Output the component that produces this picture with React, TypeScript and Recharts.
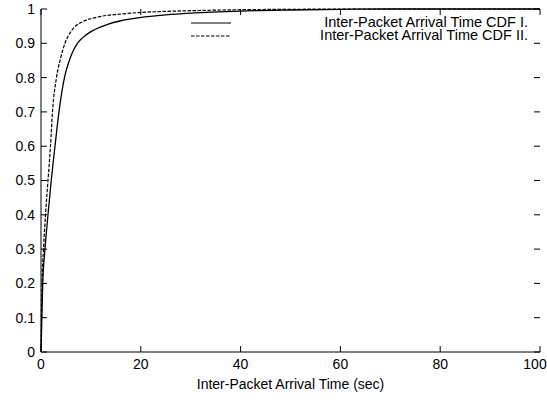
import React from 'react';
import { LineChart, Line, XAxis, YAxis, Legend } from 'recharts';

// Inter-packet arrival time (sec) vs. cumulative probability
const xCdfI = [0, 0.35, 0.8, 1.4, 2.05, 2.8, 3.6, 4.7, 5.8, 6.5, 7.3, 8.5, 10, 11.5, 13.5, 15.8, 19.8, 25, 30, 40, 50, 60, 70, 100];
const yCdfI = [0, 0.2, 0.3, 0.4, 0.5, 0.6, 0.7, 0.8, 0.855, 0.88, 0.9, 0.918, 0.934, 0.945, 0.956, 0.965, 0.975, 0.983, 0.988, 0.994, 0.997, 0.999, 1, 1];

const xCdfII = [0, 0.2, 0.5, 0.9, 1.4, 1.9, 2.3, 3.1, 3.9, 4.8, 5.6, 6.5, 8.5, 11.2, 16.5, 23, 30, 40, 50, 60, 100];
const yCdfII = [0, 0.2, 0.3, 0.4, 0.5, 0.6, 0.7, 0.8, 0.855, 0.9, 0.925, 0.944, 0.964, 0.976, 0.986, 0.992, 0.995, 0.998, 0.999, 1, 1];

const xTicks = [0, 20, 40, 60, 80, 100];
const yTicks = [0, 0.1, 0.2, 0.3, 0.4, 0.5, 0.6, 0.7, 0.8, 0.9, 1];

const cdfI = xCdfI.map((x, i) => ({ x, y: yCdfI[i] }));
const cdfII = xCdfII.map((x, i) => ({ x, y: yCdfII[i] }));

const W = 547;
const H = 400;
const M = { top: 9, right: 7, bottom: 0, left: 0 };
const Y_AXIS_W = 41;
const X_AXIS_H = 48;
const plotLeft = M.left + Y_AXIS_W;
const plotRight = W - M.right;
const plotTop = M.top;
const plotBottom = H - M.bottom - X_AXIS_H;
const TICK = 6;

const font = '"Liberation Sans", Arial, Helvetica, sans-serif';

// gnuplot draws ticks inward, mirrored on the opposite border
const XTick = ({ x, y, payload }: any) => (
  <g>
    <line x1={payload.coordinate} x2={payload.coordinate} y1={plotBottom} y2={plotBottom - TICK} stroke="#000" />
    <line x1={payload.coordinate} x2={payload.coordinate} y1={plotTop} y2={plotTop + TICK} stroke="#000" />
    <text x={x} y={y} dy="0.71em" textAnchor="middle" fill="#000" fontSize={14} fontFamily={font}>
      {payload.value}
    </text>
  </g>
);

const YTick = ({ x, y, payload }: any) => (
  <g>
    <line x1={plotLeft} x2={plotLeft + TICK} y1={payload.coordinate} y2={payload.coordinate} stroke="#000" />
    <line x1={plotRight} x2={plotRight - TICK} y1={payload.coordinate} y2={payload.coordinate} stroke="#000" />
    <text x={x} y={y} dy="0.355em" textAnchor="end" fill="#000" fontSize={14} fontFamily={font}>
      {payload.value}
    </text>
  </g>
);

const KeyBox = ({ payload }: any) => (
  <div style={{ position: 'relative', width: W, height: 44, fontFamily: font }}>
    {(payload || []).map((entry: any, i: number) => {
      const cy = 22.5 + i * 13;
      return (
        <React.Fragment key={entry.value}>
          <svg style={{ position: 'absolute', left: 191, top: cy - 2 }} width={41} height={4}>
            <line
              x1={0}
              y1={2}
              x2={40}
              y2={2}
              stroke="#000"
              strokeWidth={1}
              strokeDasharray={entry.payload?.strokeDasharray}
            />
          </svg>
          <span
            style={{
              position: 'absolute',
              right: W - 528,
              top: cy - 6.5,
              lineHeight: '13px',
              fontSize: 14.5,
              color: '#000',
              whiteSpace: 'nowrap'
            }}
          >
            {entry.value}
          </span>
        </React.Fragment>
      );
    })}
  </div>
);

export default function App() {
  return (
    <div style={{ position: 'absolute', left: 0, top: 0, background: '#fff', fontFamily: font }}>
      <LineChart width={W} height={H} margin={M}>
        <XAxis
          dataKey="x"
          type="number"
          domain={[0, 100]}
          ticks={xTicks}
          height={X_AXIS_H}
          tickSize={0}
          tickMargin={7}
          tickLine={false}
          tick={<XTick />}
          axisLine={{ stroke: '#000' }}
          label={{
            value: 'Inter-Packet Arrival Time (sec)',
            position: 'insideBottom',
            offset: 11,
            fill: '#000',
            fontSize: 14,
            fontFamily: font
          }}
        />
        <XAxis
          xAxisId="top"
          orientation="top"
          type="number"
          domain={[0, 100]}
          height={0}
          tick={false}
          tickLine={false}
          axisLine={{ stroke: '#000' }}
        />
        <YAxis
          type="number"
          domain={[0, 1]}
          ticks={yTicks}
          width={Y_AXIS_W}
          tickSize={0}
          tickMargin={6}
          tickLine={false}
          tick={<YTick />}
          axisLine={{ stroke: '#000' }}
        />
        <YAxis
          yAxisId="right"
          orientation="right"
          type="number"
          domain={[0, 1]}
          width={0}
          tick={false}
          tickLine={false}
          axisLine={{ stroke: '#000' }}
        />
        <Legend
          layout="horizontal"
          verticalAlign="middle"
          align="center"
          content={KeyBox}
          wrapperStyle={{ left: 0, top: 0, width: W }}
        />
        <Line
          data={cdfI}
          dataKey="y"
          name="Inter-Packet Arrival Time CDF I."
          type="monotone"
          stroke="#000"
          strokeWidth={1.3}
          dot={false}
          isAnimationActive={false}
        />
        <Line
          data={cdfII}
          dataKey="y"
          name="Inter-Packet Arrival Time CDF II."
          type="monotone"
          stroke="#000"
          strokeWidth={1.2}
          strokeDasharray="3.5 1.5"
          dot={false}
          isAnimationActive={false}
        />
      </LineChart>
    </div>
  );
}
